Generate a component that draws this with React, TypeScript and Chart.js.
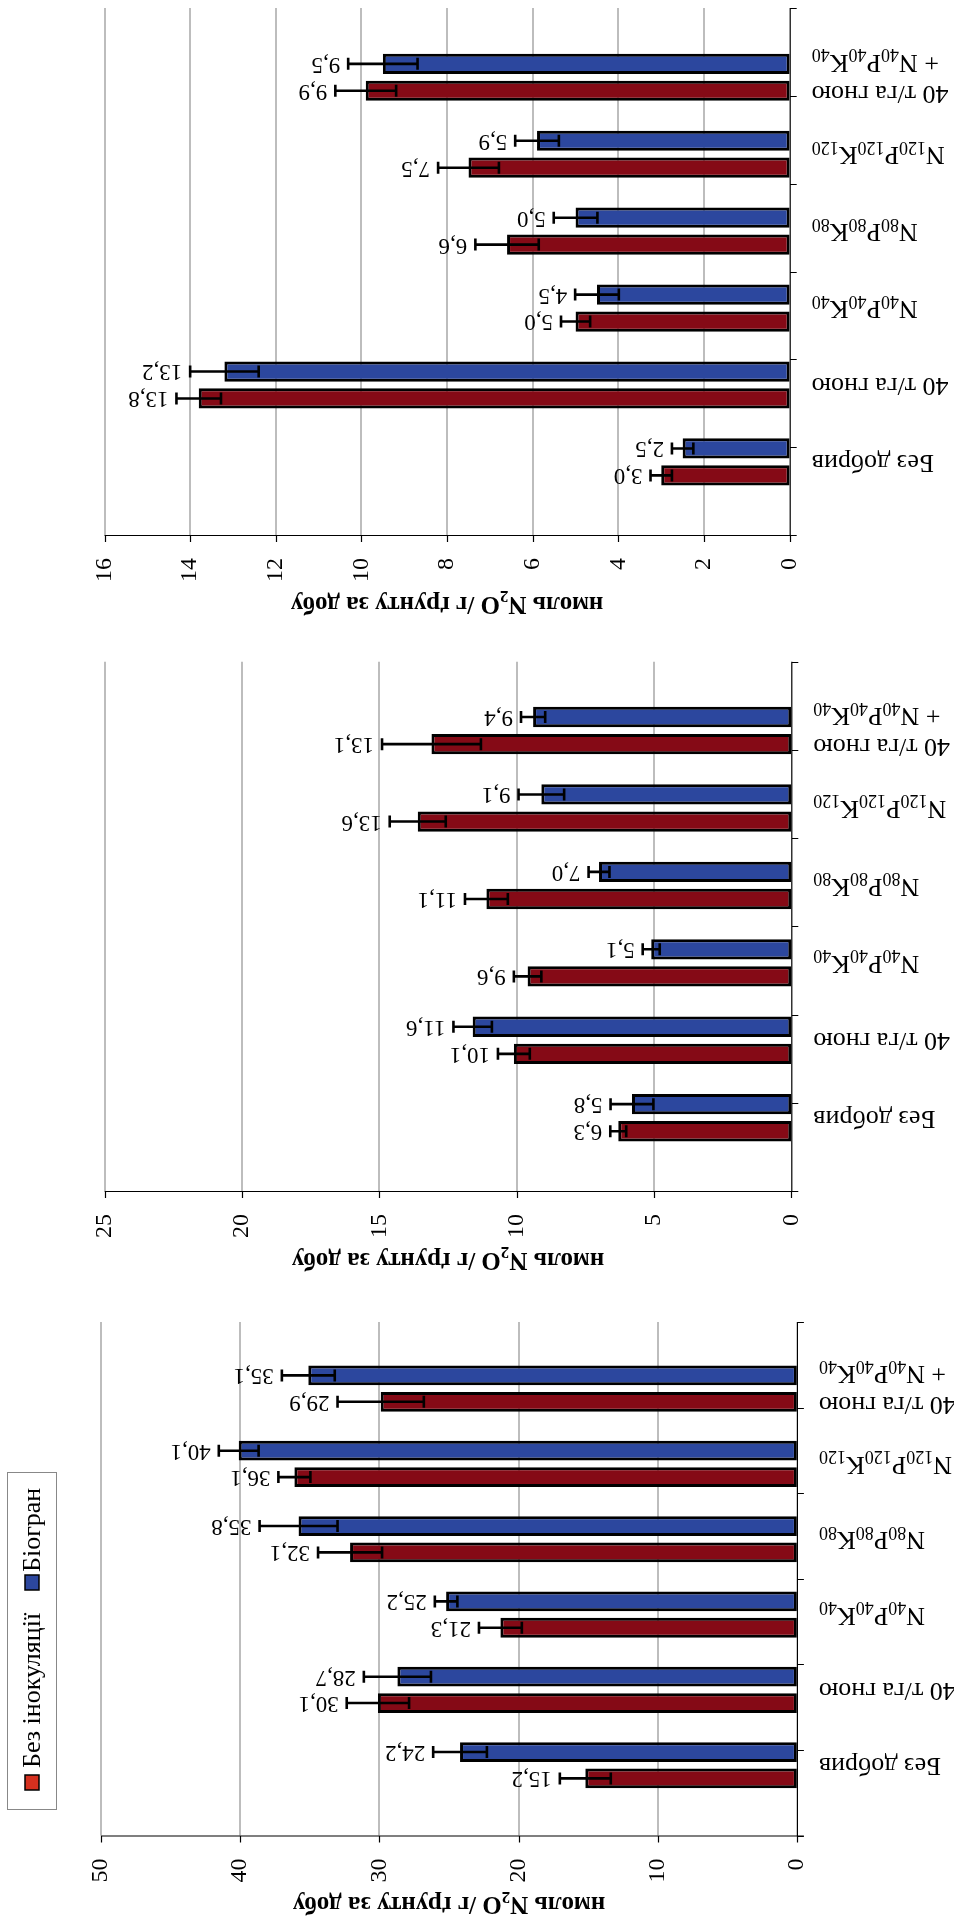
import React, { useEffect, useRef } from 'react';
import { Chart, registerables } from 'chart.js';

Chart.register(...registerables);

// ---------- data ----------
const categories = [
  'Без добрив',
  '40 т/га гною',
  'N{40}P{40}K{40}',
  'N{80}P{80}K{80}',
  'N{120}P{120}K{120}',
  '40 т/га гною\n+ N{40}P{40}K{40}',
];
const seriesNames = ['Без інокуляції', 'Біогран'];
const axisTitle = 'нмоль N{2}O /г ґрунту за добу';

// Panel A (top)
const aNoInoc = [3.0, 13.8, 5.0, 6.6, 7.5, 9.9];
const aNoInocErr = [0.25, 0.52, 0.34, 0.74, 0.71, 0.71];
const aBiogran = [2.5, 13.2, 4.5, 5.0, 5.9, 9.5];
const aBiogranErr = [0.25, 0.8, 0.51, 0.51, 0.51, 0.81];
const aTicks = [0, 2, 4, 6, 8, 10, 12, 14, 16];

// Panel B (middle)
const bNoInoc = [6.3, 10.1, 9.6, 11.1, 13.6, 13.1];
const bNoInocErr = [0.29, 0.58, 0.5, 0.78, 1.02, 1.8];
const bBiogran = [5.8, 11.6, 5.1, 7.0, 9.1, 9.4];
const bBiogranErr = [0.78, 0.7, 0.31, 0.38, 0.83, 0.44];
const bTicks = [0, 5, 10, 15, 20, 25];

// Panel C (bottom)
const cNoInoc = [15.2, 30.1, 21.3, 32.1, 36.1, 29.9];
const cNoInocErr = [1.83, 2.24, 1.54, 2.3, 1.15, 3.1];
const cBiogran = [24.2, 28.7, 25.2, 35.8, 40.1, 35.1];
const cBiogranErr = [1.93, 2.41, 0.81, 2.8, 1.43, 1.9];
const cTicks = [0, 10, 20, 30, 40, 50];

// ---------- styles / layout ----------
const FONT = '"Liberation Serif", "Times New Roman", serif';
const RED = '#850a16';
const BLUE = '#2c479e';
const LEGEND_RED = '#d5301f';
const GRID = '#bdbdbd';

const panels = [
  {
    noInoc: aNoInoc, noInocErr: aNoInocErr, biogran: aBiogran, biogranErr: aBiogranErr, ticks: aTicks,
    canvasTop: 0, canvasH: 625, left: 104.5, right: 789.7, top: 8, bottom: 535, yMin: -0.379, yMax: 5.33, legend: false,
  },
  {
    noInoc: bNoInoc, noInocErr: bNoInocErr, biogran: bBiogran, biogranErr: bBiogranErr, ticks: bTicks,
    canvasTop: 625, canvasH: 655, left: 104.6, right: 791.3, top: 661.7, bottom: 1191, yMin: -0.377, yMax: 5.32, legend: false,
  },
  {
    noInoc: cNoInoc, noInocErr: cNoInocErr, biogran: cBiogran, biogranErr: cBiogranErr, ticks: cTicks,
    canvasTop: 1280, canvasH: 642, left: 100.9, right: 796.9, top: 1322, bottom: 1835.5, yMin: -0.365, yMax: 5.316, legend: true,
  },
];

const W = 954;

type Seg = { t: string; sub: boolean };
function parseRich(s: string): Seg[] {
  const out: Seg[] = [];
  const re = /\{([^}]*)\}/g;
  let last = 0;
  let m: RegExpExecArray | null;
  while ((m = re.exec(s))) {
    if (m.index > last) out.push({ t: s.slice(last, m.index), sub: false });
    out.push({ t: m[1], sub: true });
    last = re.lastIndex;
  }
  if (last < s.length) out.push({ t: s.slice(last), sub: false });
  return out;
}

function drawRich(
  ctx: CanvasRenderingContext2D,
  text: string,
  ax: number,
  ay: number,
  angle: number,
  align: 'start' | 'end' | 'center',
  size: number,
  bold = false,
) {
  const segs = parseRich(text);
  const subSize = Math.round(size * 0.68);
  const f = (s: number) => `${bold ? 'bold ' : ''}${s}px ${FONT}`;
  let w = 0;
  for (const s of segs) {
    ctx.font = f(s.sub ? subSize : size);
    w += ctx.measureText(s.t).width;
  }
  ctx.save();
  ctx.translate(ax, ay);
  ctx.rotate(angle);
  ctx.textAlign = 'left';
  ctx.textBaseline = 'middle';
  ctx.fillStyle = '#000';
  let x = align === 'start' ? 0 : align === 'end' ? -w : -w / 2;
  for (const s of segs) {
    ctx.font = f(s.sub ? subSize : size);
    ctx.fillText(s.t, x, s.sub ? size * 0.3 : 0);
    x += ctx.measureText(s.t).width;
  }
  ctx.restore();
}

const fmt = (v: number) => v.toFixed(1).replace('.', ',');

function makePlugin(p: (typeof panels)[number]) {
  return {
    id: 'customDraw',
    beforeDatasetsDraw(chart: any) {
      const ctx: CanvasRenderingContext2D = chart.ctx;
      const xs = chart.scales.x;
      const { top, bottom } = chart.chartArea;
      ctx.save();
      ctx.strokeStyle = GRID;
      ctx.lineWidth = 2;
      for (const v of p.ticks) {
        if (v === 0) continue;
        const x = Math.round(xs.getPixelForValue(v));
        ctx.beginPath();
        ctx.moveTo(x, top);
        ctx.lineTo(x, bottom);
        ctx.stroke();
      }
      ctx.restore();
    },
    afterDatasetsDraw(chart: any) {
      const ctx: CanvasRenderingContext2D = chart.ctx;
      const xs = chart.scales.x;
      const ys = chart.scales.y;
      const { top, bottom, left, right } = chart.chartArea;

      // axes
      ctx.save();
      ctx.strokeStyle = '#000';
      ctx.lineWidth = 1.2;
      ctx.beginPath();
      ctx.moveTo(left, bottom + 0.5);
      ctx.lineTo(right + 7, bottom + 0.5);
      ctx.moveTo(right + 0.5, top);
      ctx.lineTo(right + 0.5, bottom);
      for (const v of p.ticks) {
        const x = Math.round(xs.getPixelForValue(v)) + 0.5;
        ctx.moveTo(x, bottom);
        ctx.lineTo(x, bottom + 7);
      }
      for (let i = 0; i <= categories.length; i++) {
        const y = Math.round(top + ((bottom - top) * i) / categories.length) + 0.5;
        ctx.moveTo(right, y);
        ctx.lineTo(right + 7, y);
      }
      ctx.stroke();
      ctx.restore();

      // error bars + data labels
      const sets = [
        { idx: 0, vals: p.biogran, errs: p.biogranErr },
        { idx: 1, vals: p.noInoc, errs: p.noInocErr },
      ];
      for (const s of sets) {
        const meta = chart.getDatasetMeta(s.idx);
        s.vals.forEach((v: number, i: number) => {
          const el = meta.data[i];
          const y = el.y;
          const e = s.errs[i];
          const x1 = xs.getPixelForValue(v + e);
          const x2 = xs.getPixelForValue(Math.max(0, v - e));
          ctx.save();
          ctx.strokeStyle = '#000';
          ctx.lineWidth = 2.6;
          ctx.beginPath();
          ctx.moveTo(x1, y);
          ctx.lineTo(x2, y);
          ctx.moveTo(x1, y - 6);
          ctx.lineTo(x1, y + 6);
          ctx.moveTo(x2, y - 6);
          ctx.lineTo(x2, y + 6);
          ctx.stroke();
          ctx.restore();
          drawRich(ctx, fmt(v), x1 - 8, y, Math.PI, 'start', 23);
        });
      }

      // tick labels
      for (const v of p.ticks) {
        const x = xs.getPixelForValue(v);
        drawRich(ctx, String(v), x, bottom + 23, -Math.PI / 2, 'end', 24);
      }

      // category labels
      categories.forEach((c, i) => {
        const yc = ys.getPixelForValue(i);
        const lines = c.split('\n');
        const gap = 31;
        lines.forEach((ln, k) => {
          const yy = yc + ((lines.length - 1) / 2 - k) * gap;
          drawRich(ctx, ln, right + 22, yy, Math.PI, 'end', 26);
        });
      });

      // axis title
      drawRich(ctx, axisTitle, (left + right) / 2, bottom + 68, Math.PI, 'center', 25, true);

      // legend
      if (p.legend) {
        const off = p.canvasTop;
        ctx.save();
        ctx.strokeStyle = '#888';
        ctx.lineWidth = 1;
        ctx.strokeRect(7.5, 1472.5 - off, 49, 337);
        ctx.lineWidth = 1.5;
        ctx.fillStyle = LEGEND_RED;
        ctx.fillRect(25, 1775 - off, 14, 15);
        ctx.strokeStyle = '#000';
        ctx.strokeRect(25, 1775 - off, 14, 15);
        ctx.fillStyle = BLUE;
        ctx.fillRect(25, 1575 - off, 14, 15);
        ctx.strokeRect(25, 1575 - off, 14, 15);
        ctx.restore();
        drawRich(ctx, seriesNames[0], 33, 1768 - off, -Math.PI / 2, 'start', 26);
        drawRich(ctx, seriesNames[1], 33, 1572 - off, -Math.PI / 2, 'start', 26);
      }
    },
  };
}

function Panel({ p }: { p: (typeof panels)[number] }) {
  const ref = useRef<HTMLCanvasElement>(null);
  useEffect(() => {
    if (!ref.current) return;
    const slot = 0.7;
    const chart = new Chart(ref.current, {
      type: 'bar',
      data: {
        datasets: [
          {
            label: seriesNames[1],
            data: p.biogran.map((v, i) => ({ x: v, y: i })),
            backgroundColor: BLUE,
            borderColor: '#000',
            borderWidth: 3,
            borderSkipped: false,
            categoryPercentage: slot,
            barPercentage: 0.75,
          },
          {
            label: seriesNames[0],
            data: p.noInoc.map((v, i) => ({ x: v, y: i })),
            backgroundColor: RED,
            borderColor: '#000',
            borderWidth: 3,
            borderSkipped: false,
            categoryPercentage: slot,
            barPercentage: 0.75,
          },
        ],
      } as any,
      options: {
        indexAxis: 'y',
        animation: false,
        responsive: false,
        maintainAspectRatio: false,
        layout: {
          padding: {
            left: p.left,
            right: W - p.right,
            top: p.top - p.canvasTop,
            bottom: p.canvasTop + p.canvasH - p.bottom,
          },
        },
        scales: {
          x: { type: 'linear', min: 0, max: p.ticks[p.ticks.length - 1], reverse: true, display: false },
          y: {
            type: 'linear',
            min: p.yMin,
            max: p.yMax,
            display: false,
            afterBuildTicks: (scale: any) => {
              scale.ticks = categories.map((_, i) => ({ value: i }));
            },
          },
        },
        plugins: { legend: { display: false }, tooltip: { enabled: false } },
      } as any,
      plugins: [makePlugin(p)],
    });
    return () => chart.destroy();
  }, [p]);
  return (
    <canvas
      ref={ref}
      width={W}
      height={p.canvasH}
      style={{ position: 'absolute', left: 0, top: p.canvasTop, width: W, height: p.canvasH }}
    />
  );
}

export default function App() {
  return (
    <div style={{ position: 'absolute', left: 0, top: 0, width: W, height: 1922, background: '#fff' }}>
      {panels.map((p, i) => (
        <Panel key={i} p={p} />
      ))}
    </div>
  );
}
